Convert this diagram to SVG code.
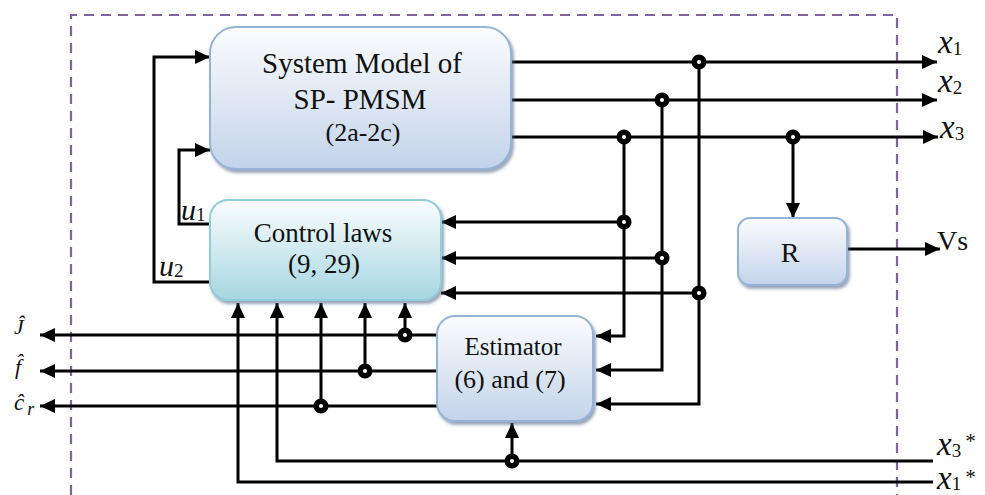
<svg xmlns="http://www.w3.org/2000/svg" width="985" height="495" viewBox="0 0 985 495">
  <style>
    .box-blue { fill: url(#gBlue); stroke: #95b3d7; stroke-width: 2; filter: url(#shadow); }
    .box-cyan { fill: url(#gCyan); stroke: #92cddc; stroke-width: 2; filter: url(#shadow); }
    .lbl { font-family: "Liberation Serif", "Times New Roman", serif; fill: #111; text-anchor: middle; }
    .var { font-family: "Liberation Serif", "Times New Roman", serif; fill: #111; font-style: italic; }
    .sub { font-family: "Liberation Serif", "Times New Roman", serif; fill: #111; font-style: normal; }
    .arrow { fill: none; stroke: #000; stroke-width: 3; marker-end: url(#arr); }
    .dot { fill: #fff; stroke: #000; stroke-width: 5.5; }
  </style>
  <defs>
    <linearGradient id="gBlue" x1="0" y1="0" x2="0" y2="1">
      <stop offset="0" stop-color="#fbfcfe"/>
      <stop offset="1" stop-color="#c3d3ea"/>
    </linearGradient>
    <linearGradient id="gCyan" x1="0" y1="0" x2="0" y2="1">
      <stop offset="0" stop-color="#fbfdfe"/>
      <stop offset="1" stop-color="#a6d6e1"/>
    </linearGradient>
    <filter id="shadow" x="-10%" y="-10%" width="125%" height="130%">
      <feDropShadow dx="2" dy="3" stdDeviation="1.5" flood-color="#56698a" flood-opacity="0.6"/>
    </filter>
    <marker id="arr" markerWidth="15" markerHeight="14" refX="15" refY="7" orient="auto" markerUnits="userSpaceOnUse">
      <path d="M0,0 L15,7 L0,14 z" fill="#000"/>
    </marker>
  </defs>

  <rect width="985" height="495" fill="#fff"/>

  <!-- system boundary -->
  <path d="M71,495 V15 H897 V495" fill="none" stroke="#8064a2" stroke-width="2.2" stroke-dasharray="10,7"/>

  <!-- connectors -->
  <g id="connectors">
    <path class="arrow" d="M512,62 H937"/>
    <path class="arrow" d="M512,100 H937"/>
    <path class="arrow" d="M512,137 H938"/>
    <path class="arrow" d="M699,62 V404 H596"/>
    <path class="arrow" d="M662,100 V370 H596"/>
    <path class="arrow" d="M624,137 V336 H596"/>
    <path class="arrow" d="M624,222 H441"/>
    <path class="arrow" d="M662,258 H441"/>
    <path class="arrow" d="M699,293 H441"/>
    <path class="arrow" d="M793,137 V218"/>
    <path class="arrow" d="M848,249 H940"/>
    <path class="arrow" d="M210,224 H179 V150 H210"/>
    <path class="arrow" d="M210,282 H154 V57 H210"/>
    <path class="arrow" d="M437,335 H40"/>
    <path class="arrow" d="M437,371 H40"/>
    <path class="arrow" d="M437,406 H40"/>
    <path class="arrow" d="M405,335 V303"/>
    <path class="arrow" d="M365,371 V303"/>
    <path class="arrow" d="M321,406 V303"/>
    <path class="arrow" d="M933,461 H277 V303"/>
    <path class="arrow" d="M933,482 H238 V303"/>
    <path class="arrow" d="M512,461 V423"/>
    <circle class="dot" cx="699" cy="62" r="4.8"/>
    <circle class="dot" cx="662" cy="100" r="4.8"/>
    <circle class="dot" cx="624" cy="137" r="4.8"/>
    <circle class="dot" cx="793" cy="137" r="4.8"/>
    <circle class="dot" cx="624" cy="222" r="4.8"/>
    <circle class="dot" cx="662" cy="258" r="4.8"/>
    <circle class="dot" cx="699" cy="293" r="4.8"/>
    <circle class="dot" cx="405" cy="335" r="4.8"/>
    <circle class="dot" cx="365" cy="371" r="4.8"/>
    <circle class="dot" cx="321" cy="406" r="4.8"/>
    <circle class="dot" cx="512" cy="461" r="4.8"/>
  </g>

  <!-- blocks -->
  <g id="system-model">
    <rect class="box-blue" x="210" y="27" width="301" height="142" rx="26"/>
    <text class="lbl" x="362" y="73" font-size="29">System Model of</text>
    <text class="lbl" x="360" y="109" font-size="29">SP- PMSM</text>
    <text class="lbl" x="363" y="141" font-size="26">(2a-2c)</text>
  </g>
  <g id="control-laws">
    <rect class="box-cyan" x="210" y="200" width="231" height="100" rx="18"/>
    <text class="lbl" x="323" y="242" font-size="27">Control laws</text>
    <text class="lbl" x="324" y="273" font-size="27">(9, 29)</text>
  </g>
  <g id="estimator">
    <rect class="box-blue" x="437" y="316" width="156" height="105" rx="18"/>
    <text class="lbl" x="513" y="355" font-size="25">Estimator</text>
    <text class="lbl" x="510" y="388" font-size="26">(6) and (7)</text>
  </g>
  <g id="r-block">
    <rect class="box-blue" x="738" y="218" width="109" height="67" rx="12"/>
    <text class="lbl" x="790" y="262" font-size="28">R</text>
  </g>

  <!-- signal labels -->
  <g id="labels">
    <text class="var" x="938" y="53" font-size="33">x<tspan class="sub" font-size="19" dy="2">1</tspan></text>
    <text class="var" x="938" y="92" font-size="33">x<tspan class="sub" font-size="19" dy="2">2</tspan></text>
    <text class="var" x="940" y="138" font-size="33">x<tspan class="sub" font-size="19" dy="2">3</tspan></text>
    <text class="sub" x="937" y="250" font-size="28">Vs</text>
    <text class="var" x="937" y="455" font-size="33">x<tspan class="sub" font-size="19" dy="2">3</tspan><tspan class="sub" font-size="21" dx="4" dy="-9">*</tspan></text>
    <text class="var" x="937" y="489" font-size="33">x<tspan class="sub" font-size="19" dy="1">1</tspan><tspan class="sub" font-size="21" dx="4" dy="-6">*</tspan></text>
    <text class="var" x="181" y="220" font-size="30">u<tspan class="sub" font-size="19" dy="1">1</tspan></text>
    <text class="var" x="159" y="276" font-size="30">u<tspan class="sub" font-size="19" dy="1">2</tspan></text>
    <text class="var" x="14" y="334" font-size="22">Ĵ</text>
    <text class="var" x="15" y="374" font-size="22">f̂</text>
    <text class="var" x="14" y="410" font-size="23">ĉ<tspan font-size="18" dx="3" dy="5">r</tspan></text>
  </g>
</svg>
